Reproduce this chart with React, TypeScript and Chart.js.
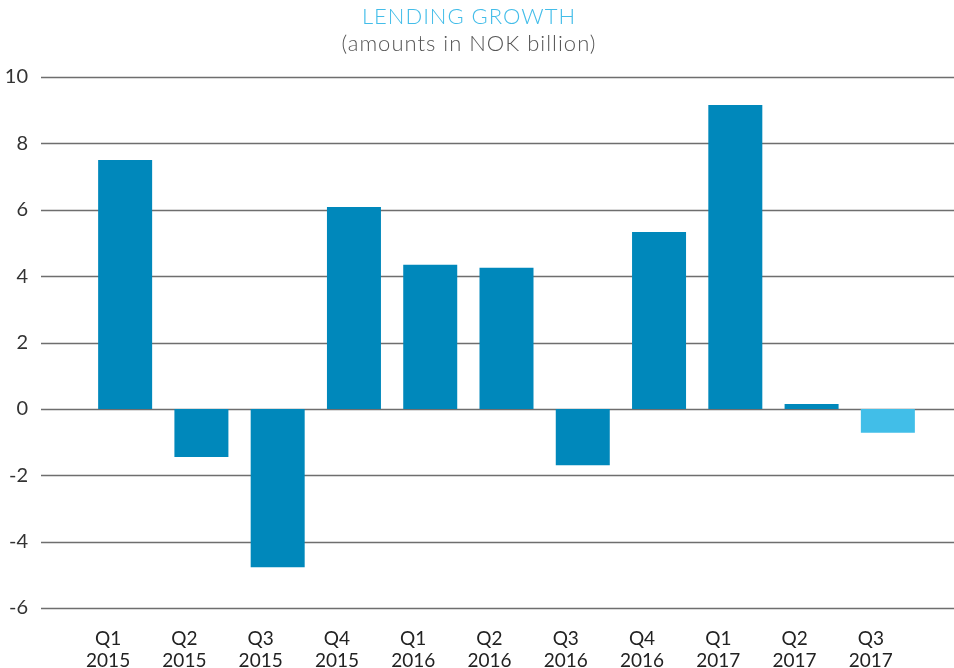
import React, { useEffect, useRef } from "react";
import { Chart, registerables } from "chart.js";

Chart.register(...registerables);

const quarters = ["Q1", "Q2", "Q3", "Q4", "Q1", "Q2", "Q3", "Q4", "Q1", "Q2", "Q3"];
const years = ["2015", "2015", "2015", "2015", "2016", "2016", "2016", "2016", "2017", "2017", "2017"];
const lendingGrowth = [7.5, -1.45, -4.77, 6.08, 4.34, 4.25, -1.7, 5.33, 9.16, 0.15, -0.72];
const barColors = [
  "#0088bb", "#0088bb", "#0088bb", "#0088bb", "#0088bb", "#0088bb",
  "#0088bb", "#0088bb", "#0088bb", "#0088bb", "#41bee8",
];
const titleText = "LENDING GROWTH";
const subtitleText = "(amounts in NOK billion)";
const yMin = -6;
const yMax = 10;
const yStep = 2;

const FONT = "Lato, 'Open Sans', sans-serif";
const LABEL_PAD = "       ";

const gridPlugin = {
  id: "fullGrid",
  beforeDatasetsDraw(chart: any) {
    const { ctx } = chart;
    const y = chart.scales.y;
    ctx.save();
    ctx.strokeStyle = "#6e6e6e";
    ctx.lineWidth = 1.6;
    y.ticks.forEach((t: any) => {
      const py = Math.round(y.getPixelForValue(t.value)) + 0.5;
      ctx.beginPath();
      ctx.moveTo(41, py);
      ctx.lineTo(chart.width, py);
      ctx.stroke();
    });
    ctx.restore();
  },
};

const titlePlugin = {
  id: "titles",
  afterDraw(chart: any) {
    const { ctx } = chart;
    ctx.save();
    ctx.textAlign = "center";
    ctx.textBaseline = "alphabetic";
    (ctx as any).letterSpacing = "1px";
    ctx.fillStyle = "#43bde9";
    ctx.font = `300 22px ${FONT}`;
    ctx.fillText(titleText, 469, 24);
    ctx.fillStyle = "#555555";
    ctx.font = `300 22px ${FONT}`;
    ctx.fillText(subtitleText, 469, 51);
    ctx.restore();
  },
};

export default function App() {
  const ref = useRef<HTMLCanvasElement | null>(null);
  useEffect(() => {
    if (!ref.current) return;
    const chart = new Chart(ref.current, {
      type: "bar",
      data: {
        labels: quarters.map((q, i) => [q, years[i]]),
        datasets: [
          {
            data: lendingGrowth,
            backgroundColor: barColors,
            borderWidth: 0,
            barPercentage: 0.708,
            categoryPercentage: 1,
          },
        ],
      },
      options: {
        animation: false,
        responsive: false,
        maintainAspectRatio: false,
        layout: { padding: { top: 77, right: 28, bottom: -24, left: 0 } },
        plugins: {
          legend: { display: false },
          tooltip: { enabled: false },
          title: { display: false },
        },
        scales: {
          x: {
            grid: { display: false, drawTicks: false },
            border: { display: false },
            ticks: {
              color: "#222222",
              font: { family: FONT, size: 19, lineHeight: 22 / 19 },
              padding: 20,
              maxRotation: 0,
              autoSkip: false,
              callback: (_v: any, i: number) => [quarters[i] + LABEL_PAD, years[i] + LABEL_PAD],
            },
          },
          y: {
            min: yMin,
            max: yMax,
            grid: { display: false, drawTicks: false },
            border: { display: false },
            ticks: {
              stepSize: yStep,
              color: "#333333",
              font: { family: FONT, size: 20 },
              padding: 59,
            },
            afterFit: (s: any) => {
              s.width = 87;
              s.paddingTop = 0;
              s.paddingBottom = 0;
            },
          },
        },
      },
      plugins: [gridPlugin, titlePlugin],
    });
    return () => chart.destroy();
  }, []);
  return (
    <div style={{ position: "fixed", left: 0, top: 0, width: 954, height: 668, background: "#fff" }}>
      <canvas ref={ref} width={954} height={668} style={{ width: 954, height: 668, display: "block" }} />
    </div>
  );
}
